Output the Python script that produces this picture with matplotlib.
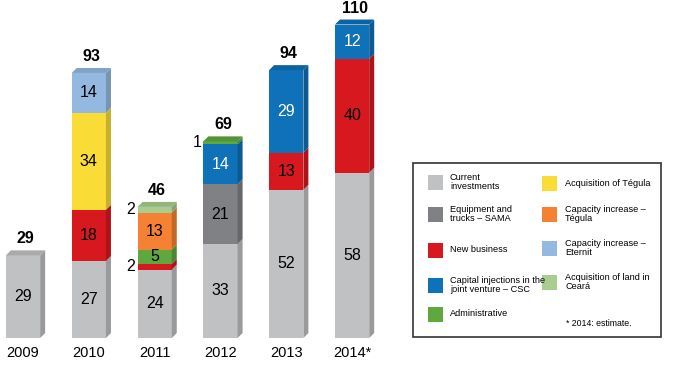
import matplotlib.pyplot as plt
from matplotlib.patches import Polygon, Rectangle
import matplotlib.colors as mc

plt.rcParams['font.family'] = ['Liberation Sans', 'DejaVu Sans']

years = ["2009", "2010", "2011", "2012", "2013", "2014*"]
categories = ["Current\ninvestments", "Equipment and\ntrucks – SAMA", "New business",
              "Capital injections in the\njoint venture – CSC", "Administrative",
              "Acquisition of Tégula", "Capacity increase –\nTégula", "Capacity increase –\nEternit",
              "Acquisition of land in\nCeará"]
colors = ["#c0c1c3", "#808184", "#d7191f", "#0f71b8", "#5ea83e",
          "#f9dc36", "#f58232", "#93b9e0", "#a8cd8f"]

# stacks per year: (category index, value), bottom to top
stacks = [
    [(0, 29)],
    [(0, 27), (2, 18), (5, 34), (7, 14)],
    [(0, 24), (2, 2), (4, 5), (6, 13), (8, 2)],
    [(0, 33), (1, 21), (3, 14), (4, 1)],
    [(0, 52), (2, 13), (3, 29)],
    [(0, 58), (2, 40), (3, 12)],
]
totals = [29, 93, 46, 69, 94, 110]


def shade(c, f):
    r, g, b = mc.to_rgb(c)
    return (r * f, g * f, b * f)


fig = plt.figure(figsize=(6.78, 3.78), dpi=100)
ax = fig.add_axes([0, 1 - 338 / 378, 410 / 678, 338 / 378])
ax.set_xlim(-0.35, 5.88)
ax.set_ylim(0, 118.6)
ax.axis("off")

w = 0.52
dx, dy = 0.076, 1.75

for i, stack in enumerate(stacks):
    left = i - w / 2
    bottom = 0
    for k, (c, v) in enumerate(stack):
        col = colors[c]
        ax.add_patch(Rectangle((left, bottom), w, v, facecolor=col, edgecolor="none"))
        ax.add_patch(Polygon([(left + w, bottom), (left + w + dx, bottom + dy),
                              (left + w + dx, bottom + v + dy), (left + w, bottom + v)],
                             facecolor=shade(col, 0.8), edgecolor="none"))
        if k == len(stack) - 1:
            ax.add_patch(Polygon([(left, bottom + v), (left + w, bottom + v),
                                  (left + w + dx, bottom + v + dy), (left + dx, bottom + v + dy)],
                                 facecolor=shade(col, 0.88), edgecolor="none"))
        tc = "white" if c == 3 else "black"
        if v >= 5:
            ax.text(i, bottom + v / 2, str(v), ha="center", va="center",
                    fontsize=11.5, color=tc)
        else:
            ax.text(left - 0.1, bottom + v / 2, str(v), ha="center", va="center",
                    fontsize=11.5, color="black")
        bottom += v
    ax.text(i + dx / 2, totals[i] + dy + 1.4, str(totals[i]), ha="center", va="bottom",
            fontsize=11.5, fontweight="bold", clip_on=False)
    ax.text(i, -5.2, years[i], ha="center", va="center", fontsize=10.5, clip_on=False)

# legend drawn in figure pixel coordinates
lg = fig.add_axes([0, 0, 1, 1])
lg.set_xlim(0, 678)
lg.set_ylim(378, 0)
lg.axis("off")
lg.add_patch(Rectangle((413, 163), 248, 174, facecolor="white", edgecolor="#333333", lw=1.2))

col1 = [0, 1, 2, 3, 4]
col2 = [5, 6, 7, 8]
y1 = [182, 214, 250, 285, 314]
y2 = [183, 214, 248, 282]
for c, yy in zip(col1, y1):
    lg.add_patch(Rectangle((428, yy - 7.5), 15, 15, facecolor=colors[c], edgecolor="none"))
    lg.text(450, yy, categories[c], ha="left", va="center", fontsize=6.6, linespacing=1.0)
for c, yy in zip(col2, y2):
    lg.add_patch(Rectangle((542, yy - 7.5), 15, 15, facecolor=colors[c], edgecolor="none"))
    lg.text(565, yy, categories[c], ha="left", va="center", fontsize=6.6, linespacing=1.0)
lg.text(566, 323, "* 2014: estimate.", ha="left", va="center", fontsize=6.3)

fig.savefig("out.png", dpi=100)
